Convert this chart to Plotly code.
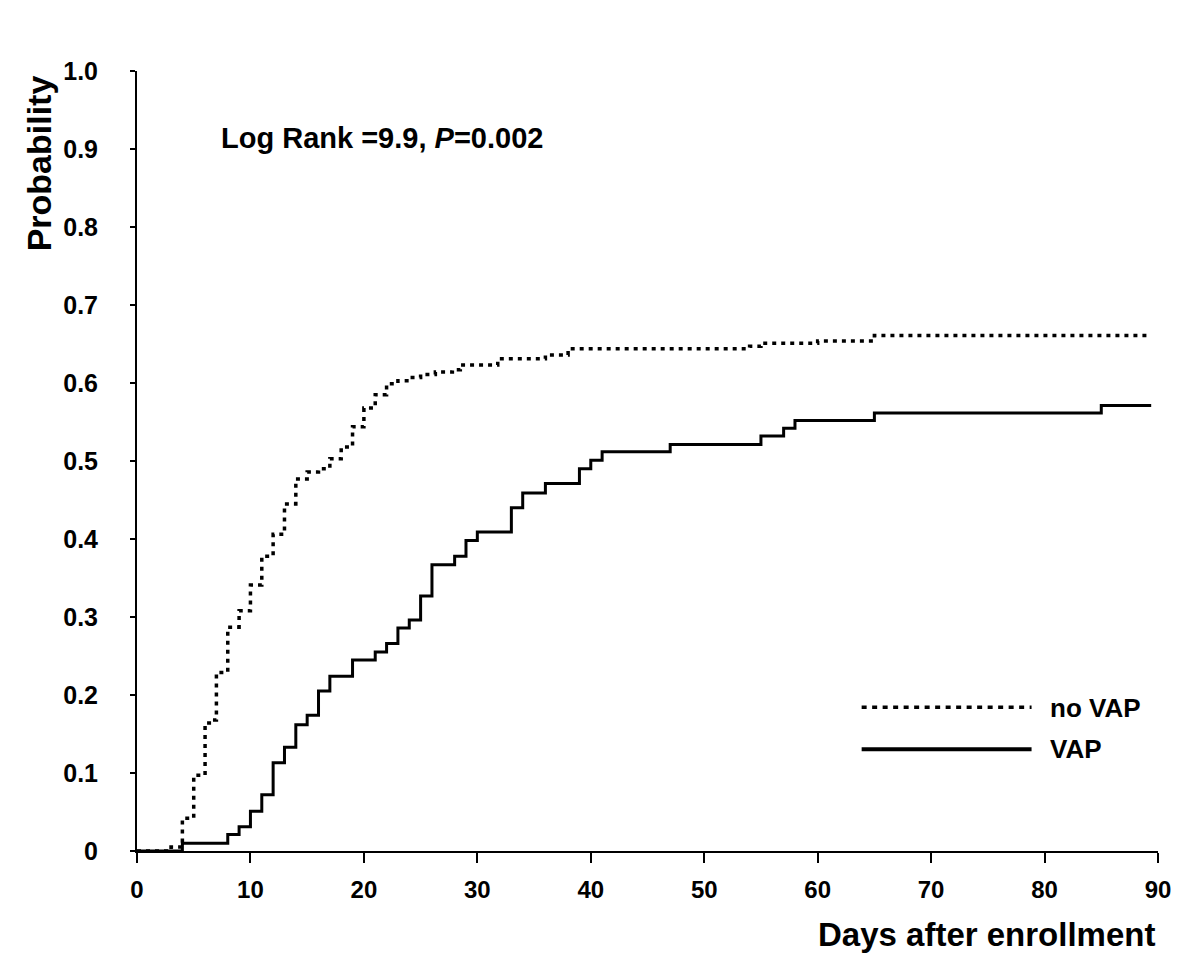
import plotly.graph_objects as go

# ---- data ----
days_novap = [0, 3, 4, 5, 6, 6.6, 7, 8, 9, 10, 11, 12, 13, 14, 15, 16, 17, 18, 19, 20,
              21, 22, 23, 24, 25, 26.3, 27.8, 28.5, 31.8, 36, 38, 54, 55, 60, 65, 89.4]
prob_novap = [0, 0.005, 0.042, 0.097, 0.164, 0.168, 0.229, 0.287, 0.308, 0.341, 0.378,
              0.406, 0.445, 0.477, 0.486, 0.490, 0.503, 0.518, 0.544, 0.568, 0.585, 0.599,
              0.603, 0.607, 0.611, 0.614, 0.617, 0.623, 0.631, 0.636, 0.644, 0.647, 0.651,
              0.654, 0.661, 0.661]

days_vap = [0, 4, 8, 9, 10, 11, 12, 13, 14, 15, 16, 17, 19, 21, 22, 23, 24, 25, 26, 28,
            29, 30, 33, 34, 36, 39, 40, 41, 47, 55, 57, 58, 65, 85, 89.4]
prob_vap = [0, 0.010, 0.021, 0.031, 0.051, 0.072, 0.113, 0.133, 0.162, 0.174, 0.205, 0.224,
            0.245, 0.255, 0.266, 0.286, 0.296, 0.327, 0.367, 0.378, 0.398, 0.409, 0.440,
            0.459, 0.471, 0.490, 0.501, 0.512, 0.521, 0.532, 0.542, 0.552, 0.5615, 0.571,
            0.571]

x_ticks = [0, 10, 20, 30, 40, 50, 60, 70, 80, 90]
y_ticks = [0, 0.1, 0.2, 0.3, 0.4, 0.5, 0.6, 0.7, 0.8, 0.9, 1.0]
y_ticktext = ["0", "0.1", "0.2", "0.3", "0.4", "0.5", "0.6", "0.7", "0.8", "0.9", "1.0"]

series_names = ["no VAP", "VAP"]
stat_text = "Log Rank =9.9, <i>P</i>=0.002"
x_title = "Days after enrollment"
y_title = "Probability"

FONT = "Liberation Sans, Arial, sans-serif"

fig = go.Figure()
fig.add_trace(go.Scatter(x=days_novap, y=prob_novap, mode="lines", line_shape="hv",
                         line=dict(color="black", width=3.5, dash="4px,5px"),
                         name=series_names[0], showlegend=False))
fig.add_trace(go.Scatter(x=days_vap, y=prob_vap, mode="lines", line_shape="hv",
                         line=dict(color="black", width=3),
                         name=series_names[1], showlegend=False))

# target plot-area box in page pixels (page body has an 8px margin)
OFF = 8
PX0, PX1, PY0, PY1 = 137, 1158.5, 70.7, 850.7
L = PX0 - OFF
T = PY0 - OFF
R = 1200 - (PX1 - OFF)
B = 971 - (PY1 - OFF)

fig.update_layout(
    width=1200, height=971,
    margin=dict(l=L, r=R, t=T, b=B, pad=0),
    paper_bgcolor="white", plot_bgcolor="white",
    font=dict(family=FONT, color="black"),
    xaxis=dict(range=[0, 90], tickvals=x_ticks, showgrid=False, zeroline=False,
               showline=True, linecolor="black", linewidth=2,
               ticks="outside", ticklen=10, tickwidth=2, tickcolor="black",
               tickfont=dict(family=FONT, size=24, color="black", weight="bold"),
               ticklabelstandoff=6),
    yaxis=dict(range=[0, 1.0], tickvals=y_ticks, ticktext=y_ticktext, showgrid=False,
               zeroline=False, showline=True, linecolor="black", linewidth=2,
               ticks="outside", ticklen=5, tickwidth=2, tickcolor="black",
               tickfont=dict(family=FONT, size=25, color="black", weight="bold"),
               ticklabelstandoff=27),
)

PW = PX1 - PX0
PH = PY1 - PY0


def px_x(px):
    return (px - PX0) / PW


def px_y(py):
    return (PY1 - py) / PH


# statistics annotation
fig.add_annotation(x=px_x(219), y=px_y(138), xref="paper", yref="paper",
                   text="<b>" + stat_text + "</b>", showarrow=False,
                   xanchor="left", yanchor="middle",
                   font=dict(family=FONT, size=29, color="black"))
# axis titles
fig.add_annotation(x=px_x(39), y=px_y(163), xref="paper", yref="paper",
                   text="<b>" + y_title + "</b>", showarrow=False, textangle=-90,
                   xanchor="center", yanchor="middle",
                   font=dict(family=FONT, size=34, color="black"))
fig.add_annotation(x=px_x(1157), y=px_y(934), xref="paper", yref="paper",
                   text="<b>" + x_title + "</b>", showarrow=False,
                   xanchor="right", yanchor="middle",
                   font=dict(family=FONT, size=33, color="black"))

# legend (drawn manually, like the reference)
fig.add_shape(type="line", xref="paper", yref="paper",
              x0=px_x(862), x1=px_x(1032), y0=px_y(707), y1=px_y(707),
              line=dict(color="black", width=3.5, dash="5px,5.5px"))
fig.add_shape(type="line", xref="paper", yref="paper",
              x0=px_x(862), x1=px_x(1032), y0=px_y(749), y1=px_y(749),
              line=dict(color="black", width=4))
fig.add_annotation(x=px_x(1048), y=px_y(708), xref="paper", yref="paper",
                   text="<b>" + series_names[0] + "</b>", showarrow=False,
                   xanchor="left", yanchor="middle",
                   font=dict(family=FONT, size=26, color="black"))
fig.add_annotation(x=px_x(1048), y=px_y(749), xref="paper", yref="paper",
                   text="<b>" + series_names[1] + "</b>", showarrow=False,
                   xanchor="left", yanchor="middle",
                   font=dict(family=FONT, size=26, color="black"))

fig.write_html("out.html")
